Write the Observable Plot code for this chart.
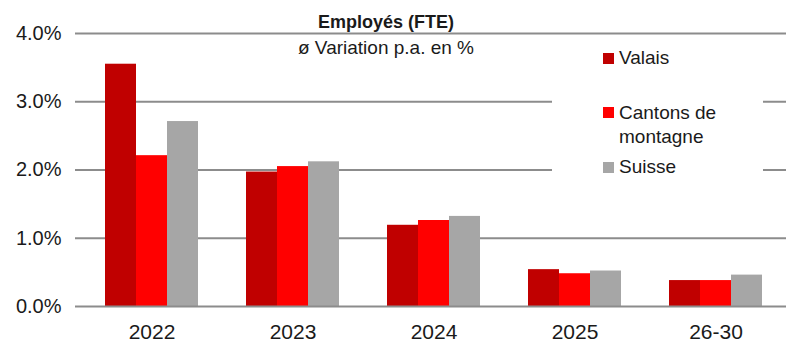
<!DOCTYPE html>
<html><head><meta charset="utf-8">
<script src="https://cdn.jsdelivr.net/npm/d3@7"></script>
<script src="https://cdn.jsdelivr.net/npm/@observablehq/plot@0.6"></script>
<style>
body{margin:0;background:#fff;}
#wrap{position:relative;width:801px;height:351px;font-family:"Liberation Sans",Arial,sans-serif;color:#1a1a1a;overflow:hidden;}
#wrap svg{position:absolute;left:0;top:0;}
.t{position:absolute;left:0;width:772px;text-align:center;white-space:nowrap;line-height:1;}
#title{top:13px;font-size:18px;font-weight:bold;}
#subtitle{top:38px;font-size:19px;}
#legend{position:absolute;left:552px;top:45px;width:211px;height:140px;background:#fff;}
.sw{position:absolute;left:51px;width:11px;height:11px;}
.lab{position:absolute;left:67px;font-size:19px;line-height:24px;white-space:nowrap;}
</style></head>
<body><div id="wrap"></div>
<script>
const categories = ["2022", "2023", "2024", "2025", "26-30"];
const series = ["Valais", "Cantons de montagne", "Suisse"];
const valais  = [3.55, 1.97, 1.19, 0.54, 0.38];
const cantons = [2.21, 2.05, 1.26, 0.48, 0.38];
const suisse  = [2.71, 2.12, 1.32, 0.52, 0.46];
const colors = ["#C00000", "#FF0000", "#A6A6A6"];
const yTicks = [0, 1, 2, 3, 4];
const legendLines = [["Valais"], ["Cantons de", "montagne"], ["Suisse"]];
const titleText = "Employés (FTE)";
const subtitleText = "ø Variation p.a. en %";

const values = [valais, cantons, suisse];
const data = categories.flatMap((c, i) => values.map((arr, k) => ({category: c, series: series[k], value: arr[i]})));

const W = 801, H = 351, mL = 80, mR = 15, mT = 33, mB = 45;
const facetStep = (W - mL - mR) / categories.length;
const grey = "#8c8c8c";
const last = categories[categories.length - 1];

const chart = Plot.plot({
  width: W, height: H,
  marginLeft: mL, marginRight: mR, marginTop: mT, marginBottom: mB,
  style: {fontFamily: '"Liberation Sans", Arial, sans-serif', background: "white", color: "#1a1a1a"},
  fx: {domain: categories, padding: 0, label: null},
  x: {domain: series, paddingInner: 0, paddingOuter: 0.75, axis: null},
  y: {domain: [0, 4], label: null},
  color: {domain: series, range: colors},
  marks: [
    Plot.ruleY(yTicks.slice(1), {stroke: grey, strokeWidth: 2}),
    Plot.barY(data, {fx: "category", x: "series", y: "value", fill: "series"}),
    Plot.ruleY([0], {stroke: grey, strokeWidth: 2}),
    Plot.ruleX(categories.slice(1), {fx: d => d, y1: 0, y2: 0, insetBottom: -6, dx: -facetStep / 2, stroke: grey, strokeWidth: 2}),
    Plot.ruleX([last], {fx: d => d, y1: 0, y2: 0, insetBottom: -6, dx: facetStep / 2, stroke: grey, strokeWidth: 2}),
    Plot.ruleX([categories[0]], {fx: d => d, y1: 4, y2: 0, insetBottom: -6, dx: -facetStep / 2, stroke: grey, strokeWidth: 2}),
    Plot.axisY({ticks: yTicks, tickFormat: d => d.toFixed(1) + "%", tickSize: 6, tickPadding: 14, fontSize: 20, stroke: grey, strokeWidth: 2, fill: "#1a1a1a", label: null}),
    Plot.axisFx({anchor: "bottom", tickSize: 0, tickPadding: 18, fontSize: 21, fill: "#1a1a1a", label: null})
  ]
});

const wrap = document.getElementById("wrap");
wrap.appendChild(chart);

const t = document.createElement("div"); t.className = "t"; t.id = "title"; t.textContent = titleText; wrap.appendChild(t);
const s = document.createElement("div"); s.className = "t"; s.id = "subtitle"; s.textContent = subtitleText; wrap.appendChild(s);

const leg = document.createElement("div"); leg.id = "legend"; wrap.appendChild(leg);
const swTops = [8, 62, 117];
const labTops = [1.4, 56.4, 109.7];
series.forEach((name, k) => {
  const sw = document.createElement("div"); sw.className = "sw";
  sw.style.top = swTops[k] + "px"; sw.style.background = colors[k]; leg.appendChild(sw);
  const lb = document.createElement("div"); lb.className = "lab";
  lb.style.top = labTops[k] + "px"; lb.innerHTML = legendLines[k].join("<br>"); leg.appendChild(lb);
});
</script>
</body></html>
